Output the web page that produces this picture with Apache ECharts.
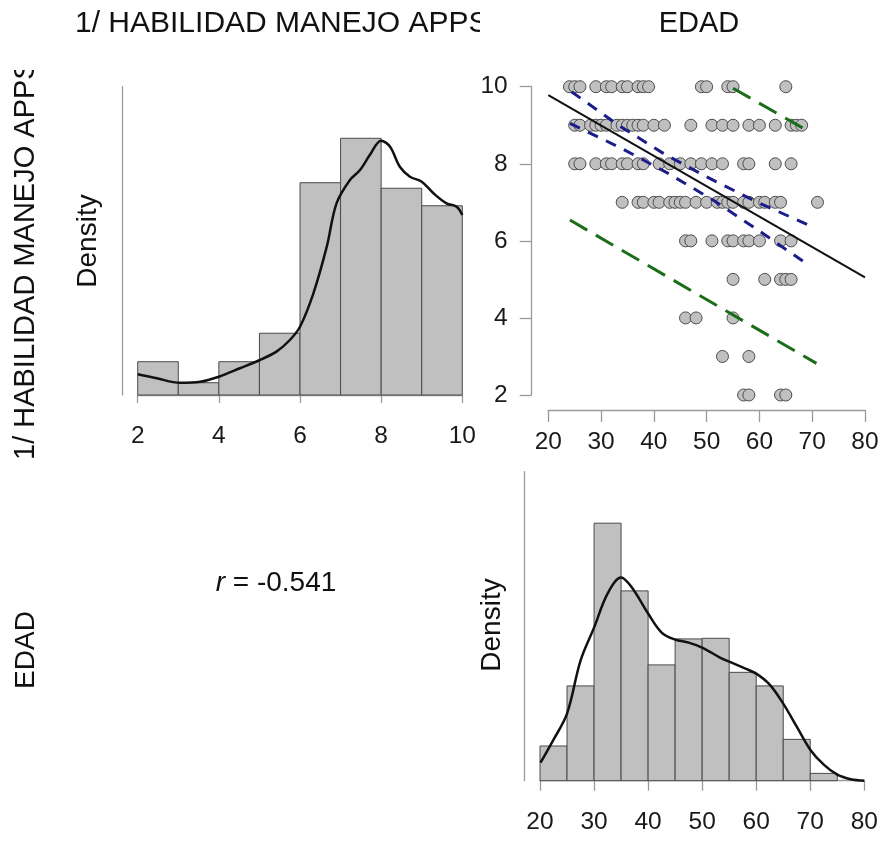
<!DOCTYPE html>
<html>
<head>
<meta charset="utf-8">
<script src="https://cdn.jsdelivr.net/npm/echarts@6/dist/echarts.min.js"></script>
<style>
html,body{margin:0;padding:0;background:#fff;}
#chart{width:884px;height:842px;}
</style>
</head>
<body>
<div id="chart"></div>
<script>
// ---------- DATA ----------
// Histogram of "1/ HABILIDAD MANEJO APPS" (bin width 1)
const habBins = [2, 3, 4, 5, 6, 7, 8, 9];
const habDensity = [0.0331, 0.0122, 0.0331, 0.0614, 0.2111, 0.2553, 0.2056, 0.1882];
const habKdeX = [2.0, 2.47, 3.04, 3.54, 4.0, 4.52, 5.01, 5.42, 5.75, 6.0, 6.33, 6.66, 6.9, 7.23, 7.48, 7.72, 8.0, 8.22, 8.46, 8.71, 9.0, 9.29, 9.61, 9.86, 10.0];
const habKdeY = [0.0206, 0.0166, 0.0122, 0.0132, 0.0182, 0.0266, 0.0348, 0.0431, 0.0547, 0.0679, 0.1011, 0.1475, 0.1906, 0.2138, 0.2237, 0.2387, 0.2529, 0.2469, 0.2270, 0.2171, 0.2121, 0.2006, 0.1906, 0.1873, 0.1790];
const habTicks = [2, 4, 6, 8, 10];

// Histogram of EDAD (bin width 5)
const ageBins = [20, 25, 30, 35, 40, 45, 50, 55, 60, 65, 70];
const ageDensity = [0.00565, 0.01543, 0.04192, 0.03090, 0.01885, 0.02308, 0.02318, 0.01764, 0.01543, 0.00673, 0.00119];
const ageKdeX = [20.1, 22.4, 25, 27.5, 30, 32.5, 35, 37, 40, 42.5, 45, 47.5, 50, 53.3, 55, 58, 60, 62.5, 65, 67.5, 70, 72.5, 75, 77.5, 80];
const ageKdeY = [0.00293, 0.00652, 0.01091, 0.01955, 0.02492, 0.03046, 0.03307, 0.03144, 0.02721, 0.02411, 0.02297, 0.02248, 0.02167, 0.02004, 0.01939, 0.01825, 0.01743, 0.01564, 0.01254, 0.00880, 0.00505, 0.00261, 0.00098, 0.00024, 0];

// Scatter: ages for each score of HABILIDAD
const ages10 = [24, 25, 26, 29, 31, 32, 34, 35, 37, 38, 39, 49, 50, 54, 55, 65];
const ages9 = [25, 26, 28, 29, 30, 31, 33, 34, 35, 36, 37, 38, 40, 42, 47, 51, 53, 55, 58, 60, 63, 66, 67, 68];
const ages8 = [25, 26, 29, 31, 32, 34, 35, 37, 38, 41, 43, 45, 47, 49, 51, 53, 57, 58, 63, 66];
const ages7 = [34, 37, 38, 40, 41, 43, 44, 45, 46, 48, 50, 52, 53, 54, 55, 57, 58, 60, 61, 63, 64, 71];
const ages6 = [46, 47, 51, 54, 55, 57, 58, 60, 64, 66];
const ages5 = [55, 61, 64, 65, 66];
const ages4 = [46, 48, 55];
const ages3 = [53, 58];
const ages2 = [57, 58, 64, 65];

// Regression line, confidence band (blue), prediction band (green)
const regLine = [[20, 9.78], [80, 5.05]];
const ciUpper = [[24.4, 9.87], [33.3, 9.0], [41.8, 8.27], [50, 7.66], [59.5, 7.01], [69.6, 6.39]];
const ciLower = [[24.1, 9.05], [33.9, 8.40], [42.7, 7.75], [51.2, 7.06], [59.5, 6.30], [68.9, 5.41]];
const piUpper = [[55.0, 9.96], [69.6, 8.82]];
const piLower = [[24.1, 6.54], [70.8, 2.82]];

const ageTicks = [20, 30, 40, 50, 60, 70, 80];
const scoreTicks = [2, 4, 6, 8, 10];
const corrText = '-0.541';

// ---------- BUILD ----------
const FONT = '"Liberation Sans", Arial, Helvetica, sans-serif';
const AX = '#9a9a9a';

function zip(xs, ys) { return xs.map((x, i) => [x, ys[i]]); }
function histData(bins, dens, w) { return bins.map((b, i) => [b, b + w, dens[i]]); }

const scatterData = [];
[[10, ages10], [9, ages9], [8, ages8], [7, ages7], [6, ages6], [5, ages5], [4, ages4], [3, ages3], [2, ages2]]
  .forEach(([s, arr]) => arr.forEach(a => scatterData.push([a, s])));

function histRender(params, api) {
  const p0 = api.coord([api.value(0), 0]);
  const p1 = api.coord([api.value(1), api.value(2)]);
  return {
    type: 'rect',
    shape: { x: p0[0], y: p1[1], width: p1[0] - p0[0], height: p0[1] - p1[1] },
    style: { fill: '#c0c0c0', stroke: '#4a4a4a', lineWidth: 1 }
  };
}

function xAxisCfg(gi, min, max, interval, ticks, offset, margin, tickLen) {
  return {
    type: 'value', gridIndex: gi, min: min, max: max, interval: interval, offset: offset,
    axisLine: { show: true, lineStyle: { color: AX, width: 1.3 } },
    axisTick: { show: true, length: tickLen, lineStyle: { color: AX, width: 1.3 } },
    axisLabel: { show: true, fontSize: 24.5, fontFamily: FONT, color: '#1a1a1a', margin: margin,
      formatter: v => (ticks.indexOf(v) >= 0 ? String(v) : '') },
    splitLine: { show: false }
  };
}

const option = {
  animation: false,
  backgroundColor: '#ffffff',
  grid: [
    { left: 137.7, top: 86.7, width: 324.6, height: 308.3 },
    { left: 548.3, top: 86.7, width: 316.7, height: 308.3 },
    { left: 540, top: 471.7, width: 324.3, height: 309 }
  ],
  xAxis: [
    xAxisCfg(0, 2, 10, 2, habTicks, 15, 14, 8),
    xAxisCfg(1, 20, 80, 10, ageTicks, 15, 20, 12),
    xAxisCfg(2, 20, 80, 10, ageTicks, 16, 13, 10)
  ],
  yAxis: [
    { type: 'value', gridIndex: 0, min: 0, max: 0.3066, offset: 15.5,
      axisLine: { show: true, lineStyle: { color: AX, width: 1.3 } }, axisTick: { show: false },
      axisLabel: { show: false }, splitLine: { show: false } },
    { type: 'value', gridIndex: 1, min: 2, max: 10, interval: 2, offset: 16.6,
      axisLine: { show: true, lineStyle: { color: AX, width: 1.3 } },
      axisTick: { show: true, length: 12, lineStyle: { color: AX, width: 1.3 } },
      axisLabel: { show: true, fontSize: 24.5, fontFamily: FONT, color: '#1a1a1a', margin: 24,
        formatter: v => (scoreTicks.indexOf(v) >= 0 ? String(v) : '') },
      splitLine: { show: false } },
    { type: 'value', gridIndex: 2, min: 0, max: 0.0503, offset: 15.7,
      axisLine: { show: true, lineStyle: { color: AX, width: 1.3 } }, axisTick: { show: false },
      axisLabel: { show: false }, splitLine: { show: false } }
  ],
  series: [
    { type: 'custom', xAxisIndex: 0, yAxisIndex: 0, renderItem: histRender,
      encode: { x: [0, 1], y: 2 }, data: histData(habBins, habDensity, 1), z: 2 },
    { type: 'line', xAxisIndex: 0, yAxisIndex: 0, data: zip(habKdeX, habKdeY), smooth: 0.35,
      showSymbol: false, symbol: 'none', lineStyle: { color: '#111', width: 2.5 }, z: 3 },

    { type: 'scatter', xAxisIndex: 1, yAxisIndex: 1, data: scatterData, symbol: 'circle', symbolSize: 12,
      clip: false, itemStyle: { color: '#c0c0c0', borderColor: '#4d4d4d', borderWidth: 1, opacity: 1 }, z: 2 },
    { type: 'line', xAxisIndex: 1, yAxisIndex: 1, data: regLine, symbol: 'none', clip: false,
      lineStyle: { color: '#111', width: 2 }, z: 4 },
    { type: 'line', xAxisIndex: 1, yAxisIndex: 1, data: ciUpper, symbol: 'none', clip: false,
      lineStyle: { color: '#1c1c8a', width: 3, type: [11, 9] }, z: 4 },
    { type: 'line', xAxisIndex: 1, yAxisIndex: 1, data: ciLower, symbol: 'none', clip: false,
      lineStyle: { color: '#1c1c8a', width: 3, type: [11, 9] }, z: 4 },
    { type: 'line', xAxisIndex: 1, yAxisIndex: 1, data: piUpper, symbol: 'none', clip: false,
      lineStyle: { color: '#1a6e1a', width: 3, type: [20, 10] }, z: 4 },
    { type: 'line', xAxisIndex: 1, yAxisIndex: 1, data: piLower, symbol: 'none', clip: false,
      lineStyle: { color: '#1a6e1a', width: 3, type: [20, 10] }, z: 4 },

    { type: 'custom', xAxisIndex: 2, yAxisIndex: 2, renderItem: histRender,
      encode: { x: [0, 1], y: 2 }, data: histData(ageBins, ageDensity, 5), z: 2 },
    { type: 'line', xAxisIndex: 2, yAxisIndex: 2, data: zip(ageKdeX, ageKdeY), smooth: 0.35,
      showSymbol: false, symbol: 'none', lineStyle: { color: '#111', width: 2.5 }, z: 3 }
  ],
  graphic: [
    { type: 'text', x: 75, y: 24, z: 10,
      style: { text: '1/ HABILIDAD MANEJO APPS', font: '30px ' + FONT, fill: '#111',
        textAlign: 'left', textVerticalAlign: 'middle' } },
    { type: 'rect', z: 11, shape: { x: 480, y: 0, width: 45, height: 52 }, style: { fill: '#ffffff' } },
    { type: 'text', x: 699, y: 24, z: 10,
      style: { text: 'EDAD', font: '29px ' + FONT, fill: '#111', textAlign: 'center', textVerticalAlign: 'middle' } },
    { type: 'text', x: 26, y: 460, rotation: Math.PI / 2, z: 10,
      style: { text: '1/ HABILIDAD MANEJO APPS', font: '29px ' + FONT, fill: '#111',
        textAlign: 'left', textVerticalAlign: 'middle' } },
    { type: 'rect', z: 11, shape: { x: 0, y: 30, width: 60, height: 40 }, style: { fill: '#ffffff' } },
    { type: 'text', x: 26, y: 650, rotation: Math.PI / 2, z: 10,
      style: { text: 'EDAD', font: '28px ' + FONT, fill: '#111', textAlign: 'center', textVerticalAlign: 'middle' } },
    { type: 'text', x: 88, y: 241, rotation: Math.PI / 2, z: 10,
      style: { text: 'Density', font: '28px ' + FONT, fill: '#111', textAlign: 'center', textVerticalAlign: 'middle' } },
    { type: 'text', x: 492, y: 625, rotation: Math.PI / 2, z: 10,
      style: { text: 'Density', font: '28px ' + FONT, fill: '#111', textAlign: 'center', textVerticalAlign: 'middle' } },
    { type: 'text', x: 276, y: 583, z: 10,
      style: { text: '{i|r}{n| = ' + corrText + '}', textAlign: 'center', textVerticalAlign: 'middle',
        rich: { i: { font: 'italic 28px ' + FONT, fill: '#111' }, n: { font: '28px ' + FONT, fill: '#111' } } } }
  ]
};

const chart = echarts.init(document.getElementById('chart'), null, { renderer: 'canvas' });
chart.setOption(option);
</script>
</body>
</html>
